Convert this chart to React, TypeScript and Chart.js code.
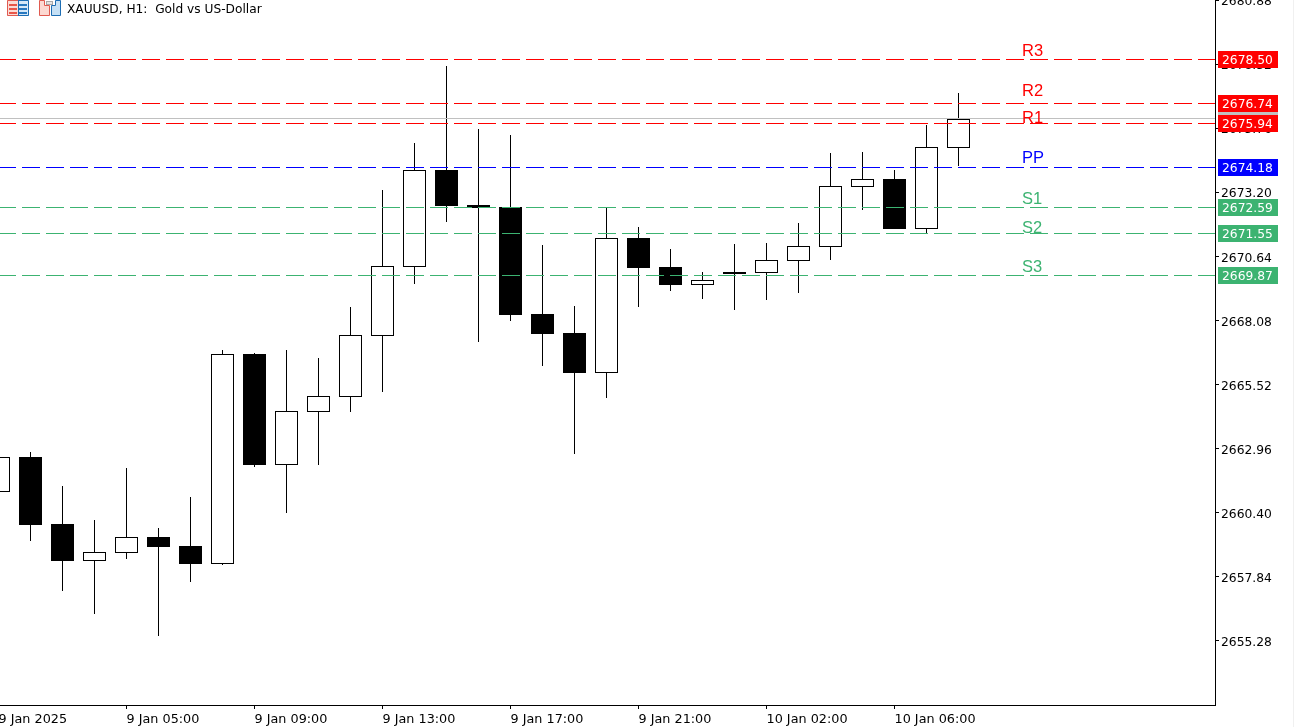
import React, { useEffect, useRef } from "react";
import { Chart, registerables } from "chart.js";

Chart.register(...registerables);

const opens = [2661.23, 2662.63, 2659.95, 2658.47, 2658.79, 2659.43, 2659.07, 2658.35, 2666.74, 2662.31, 2664.42, 2665.02, 2667.46, 2670.22, 2674.09, 2672.69, 2672.61, 2668.34, 2667.58, 2665.98, 2671.37, 2670.22, 2669.50, 2670.02, 2669.98, 2670.46, 2671.01, 2673.41, 2673.73, 2671.73, 2674.97];
const highs = [2662.63, 2662.83, 2661.47, 2660.11, 2662.19, 2659.79, 2661.03, 2666.90, 2666.78, 2666.90, 2666.58, 2668.62, 2673.29, 2675.17, 2678.24, 2675.73, 2675.49, 2671.09, 2668.66, 2672.57, 2671.81, 2670.93, 2670.02, 2671.13, 2671.17, 2671.97, 2674.77, 2674.81, 2674.09, 2675.89, 2677.17];
const lows = [2661.23, 2659.27, 2657.27, 2656.36, 2658.55, 2655.48, 2657.63, 2658.31, 2662.23, 2660.39, 2662.31, 2664.42, 2665.22, 2669.54, 2672.01, 2667.22, 2668.06, 2666.26, 2662.75, 2664.98, 2668.62, 2669.26, 2668.94, 2668.50, 2668.90, 2669.18, 2670.50, 2672.49, 2671.73, 2671.57, 2674.25];
const closes = [2662.63, 2659.91, 2658.47, 2658.83, 2659.43, 2659.03, 2658.35, 2666.74, 2662.31, 2664.46, 2665.06, 2667.50, 2670.26, 2674.09, 2672.65, 2672.57, 2668.30, 2667.54, 2665.98, 2671.37, 2670.18, 2669.50, 2669.70, 2669.94, 2670.50, 2671.05, 2673.45, 2673.73, 2671.73, 2675.01, 2676.13];

const timeTickIndexes = [0, 4, 8, 12, 16, 20, 24, 28];
const timeTickLabels = ["9 Jan 2025", "9 Jan 05:00", "9 Jan 09:00", "9 Jan 13:00", "9 Jan 17:00", "9 Jan 21:00", "10 Jan 02:00", "10 Jan 06:00"];
const priceTicks = [2655.28, 2657.84, 2660.40, 2662.96, 2665.52, 2668.08, 2670.64, 2673.20, 2675.76, 2678.32, 2680.88];

const levelNames = ["R3", "R2", "R1", "PP", "S1", "S2", "S3"];
const levelValues = [2678.50, 2676.74, 2675.94, 2674.18, 2672.59, 2671.55, 2669.87];
const levelTextPrices = [2678.64, 2677.05, 2675.95, 2674.37, 2672.75, 2671.57, 2670.00];
const bidValue = [2676.13];
const titleText = ["XAUUSD, H1:  Gold vs US-Dollar"];

const RED = "#ff0000";
const BLUE = "#0000ff";
const GREEN = "#3cb371";
const levelColors = [RED, RED, RED, BLUE, GREEN, GREEN, GREEN];
const FONT = "DejaVu Sans";

const xMin = 0.046875;
const xMax = 38.015625;

const snapPlugin = {
  id: "snap",
  afterDatasetsUpdate(chart: any) {
    chart.data.datasets.forEach((ds: any, i: number) => {
      const meta = chart.getDatasetMeta(i);
      if (ds.type === "line") {
        meta.data.forEach((p: any) => {
          p.y = Math.floor(p.y) + 0.5;
        });
      } else {
        meta.data.forEach((b: any) => {
          b.y = Math.round(b.y);
          b.base = Math.round(b.base);
          b.x = Math.round(b.x * 2) / 2;
          b.height = b.base - b.y;
        });
      }
    });
  },
};

function drawIcons(ctx: CanvasRenderingContext2D) {
  ctx.save();
  // list icon
  ctx.fillStyle = "#fbdcd6";
  ctx.fillRect(7, 0, 11, 16);
  ctx.fillStyle = "#d6e8f8";
  ctx.fillRect(18, 0, 11, 16);
  ctx.fillStyle = "#e8574a";
  [4, 8, 12].forEach((y) => ctx.fillRect(9, y, 8, 2));
  ctx.fillStyle = "#2878bf";
  [4, 8, 12].forEach((y) => ctx.fillRect(19, y, 8, 2));
  ctx.strokeStyle = "#e05a50";
  ctx.lineWidth = 1;
  ctx.beginPath();
  ctx.moveTo(18, 0.5);
  ctx.lineTo(7.5, 0.5);
  ctx.lineTo(7.5, 15.5);
  ctx.lineTo(18, 15.5);
  ctx.stroke();
  ctx.strokeStyle = "#1c6db3";
  ctx.beginPath();
  ctx.moveTo(18, 0.5);
  ctx.lineTo(28.5, 0.5);
  ctx.lineTo(28.5, 15.5);
  ctx.lineTo(18, 15.5);
  ctx.stroke();
  ctx.fillStyle = "#1c6db3";
  ctx.fillRect(18, 0, 1, 16);

  // shapes icon
  ctx.fillStyle = "#fcd9d2";
  ctx.strokeStyle = "#e05a50";
  ctx.beginPath();
  ctx.moveTo(39.5, 0.5);
  ctx.lineTo(44.5, 0.5);
  ctx.lineTo(44.5, 5.5);
  ctx.lineTo(49.5, 5.5);
  ctx.lineTo(49.5, 15.5);
  ctx.lineTo(39.5, 15.5);
  ctx.closePath();
  ctx.fill();
  ctx.stroke();
  ctx.fillStyle = "#c5e0f5";
  ctx.strokeStyle = "#1c6db3";
  ctx.beginPath();
  ctx.moveTo(51.5, 15.5);
  ctx.lineTo(51.5, 5.5);
  ctx.lineTo(55.5, 5.5);
  ctx.lineTo(55.5, 0.5);
  ctx.lineTo(60.5, 0.5);
  ctx.lineTo(60.5, 15.5);
  ctx.closePath();
  ctx.fill();
  ctx.stroke();
  ctx.fillStyle = "#e4e4e4";
  ctx.strokeStyle = "#a8a8a8";
  ctx.fillRect(46, 1, 7, 3);
  ctx.strokeRect(46.5, 1.5, 6, 3);
  ctx.restore();
}

const overlayPlugin = {
  id: "overlay",
  afterDraw(chart: any) {
    const ctx: CanvasRenderingContext2D = chart.ctx;
    const y = chart.scales.y;
    const tag = (value: number, color: string, text: boolean) => {
      const row = Math.floor(y.getPixelForValue(value));
      ctx.fillStyle = color;
      ctx.fillRect(1218, row - 8, 60, 17);
      if (text) {
        ctx.fillStyle = "#ffffff";
        ctx.font = `12.3px "${FONT}"`;
        ctx.textAlign = "left";
        ctx.textBaseline = "middle";
        ctx.fillText(value.toFixed(2), 1222, row + 2);
      }
    };
    ctx.save();
    tag(bidValue[0], "#c0c0c0", false);
    levelValues.forEach((v, i) => tag(v, levelColors[i], true));
    ctx.font = '16.5px "Liberation Sans"';
    ctx.textAlign = "left";
    ctx.textBaseline = "alphabetic";
    levelNames.forEach((n, i) => {
      ctx.fillStyle = levelColors[i];
      ctx.fillText(n, 1022, Math.round(y.getPixelForValue(levelTextPrices[i])));
    });
    ctx.fillStyle = "#000000";
    ctx.font = `12.2px "${FONT}"`;
    ctx.fillText(titleText[0], 67, 13);
    drawIcons(ctx);
    ctx.fillStyle = "#f0f0f0";
    ctx.fillRect(1293, 0, 1, 727);
    ctx.restore();
  },
};

export default function App() {
  const ref = useRef<HTMLCanvasElement | null>(null);

  useEffect(() => {
    if (!ref.current) return;
    const candles = opens.map((o, i) => ({ x: i, y: [o, closes[i]], up: closes[i] >= o }));
    const levelLine = (v: number, color: string, dashed: boolean) => ({
      type: "line",
      data: [
        { x: 0, y: v },
        { x: xMax, y: v },
      ],
      borderColor: color,
      borderWidth: 1,
      borderDash: dashed ? [18, 6] : [],
      borderDashOffset: 0.5,
      pointRadius: 0,
      fill: false,
      tension: 0,
      order: 0,
    });
    const chart = new Chart(ref.current, {
      type: "bar",
      data: {
        datasets: [
          levelLine(bidValue[0], "#c0c0c0", false),
          ...levelValues.map((v, i) => levelLine(v, levelColors[i], true)),
          {
            type: "bar",
            data: candles.filter((c) => c.up).map((c) => ({ x: c.x, y: c.y })),
            backgroundColor: "#ffffff",
            borderColor: "#000000",
            borderWidth: 1,
            borderSkipped: false,
            grouped: false,
            maxBarThickness: 23,
            order: 1,
          },
          {
            type: "bar",
            data: candles.filter((c) => !c.up).map((c) => ({ x: c.x, y: c.y })),
            backgroundColor: "#000000",
            borderWidth: 0,
            grouped: false,
            maxBarThickness: 23,
            order: 1,
          },
          {
            type: "bar",
            data: highs.map((h, i) => ({ x: i, y: [lows[i], h] })),
            backgroundColor: "#000000",
            borderWidth: 0,
            grouped: false,
            maxBarThickness: 1,
            order: 2,
          },
        ] as any,
      },
      options: {
        responsive: false,
        animation: false,
        devicePixelRatio: 1,
        layout: { padding: 0 },
        plugins: { legend: { display: false }, tooltip: { enabled: false }, title: { display: false } },
        scales: {
          x: {
            type: "linear",
            min: xMin,
            max: xMax,
            offset: false,
            grid: { display: true, drawOnChartArea: false, tickLength: 4, tickColor: "#000000", offset: false },
            border: { display: true, color: "#000000", width: 1 },
            ticks: {
              autoSkip: false,
              maxRotation: 0,
              minRotation: 0,
              align: "start",
              padding: 3,
              color: "#000000",
              font: { family: FONT, size: 12.8 },
              callback: (v: any) => timeTickLabels[timeTickIndexes.indexOf(v)],
            },
            afterBuildTicks: (s: any) => {
              s.ticks = timeTickIndexes.map((value) => ({ value }));
            },
            afterFit: (s: any) => {
              s.height = 22;
              s.paddingLeft = 0;
              s.paddingRight = 0;
            },
          },
          y: {
            type: "linear",
            position: "right",
            min: 2652.72,
            max: 2680.88,
            grid: { display: true, drawOnChartArea: false, tickLength: 4, tickColor: "#000000" },
            border: { display: true, color: "#000000", width: 1 },
            ticks: {
              padding: 2,
              labelOffset: 2,
              color: "#000000",
              font: { family: FONT, size: 12.3 },
              callback: (v: any) => Number(v).toFixed(2),
            },
            afterBuildTicks: (s: any) => {
              s.ticks = priceTicks.map((value) => ({ value }));
            },
            afterFit: (s: any) => {
              s.width = 79;
              s.paddingTop = 0;
              s.paddingBottom = 0;
            },
          },
        },
      } as any,
      plugins: [snapPlugin, overlayPlugin] as any,
    });
    return () => chart.destroy();
  }, []);

  return (
    <div style={{ position: "fixed", left: 0, top: 0, width: 1294, height: 727, background: "#ffffff" }}>
      <canvas ref={ref} width={1294} height={727} style={{ display: "block", width: 1294, height: 727 }} />
    </div>
  );
}
